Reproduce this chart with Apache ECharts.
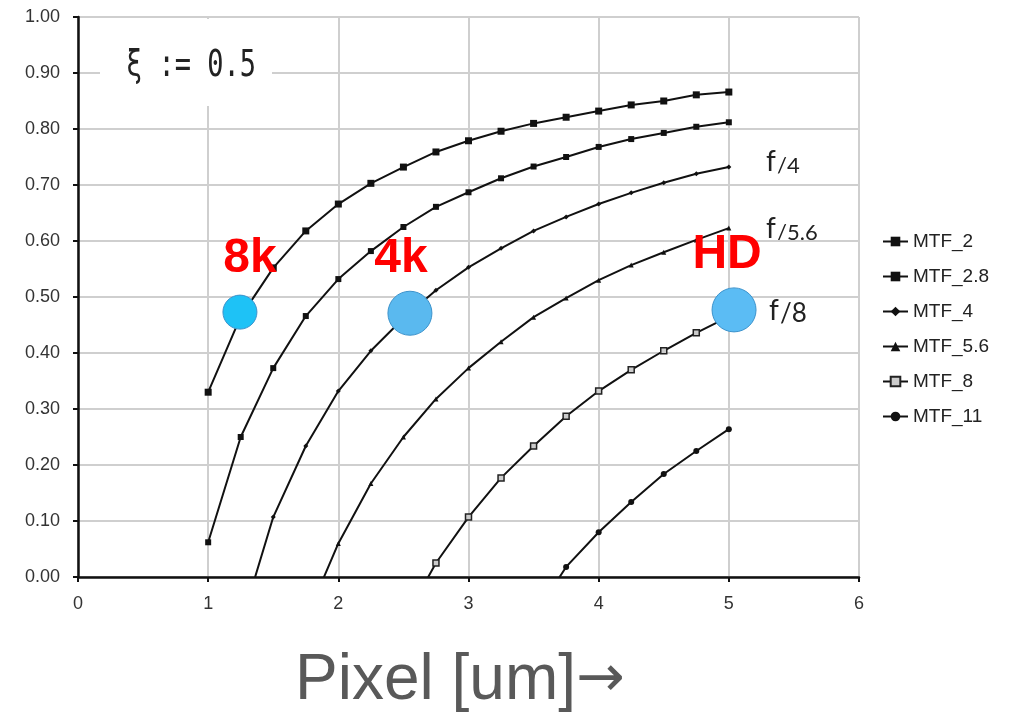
<!DOCTYPE html>
<html>
<head>
<meta charset="utf-8">
<script src="https://cdn.jsdelivr.net/npm/echarts@6/dist/echarts.min.js"></script>
<style>
html,body{margin:0;padding:0;background:#fff;}
#chart{width:1010px;height:714px;}
</style>
</head>
<body>
<div id="chart"></div>
<script>
// pixel pitch (um) for every point of the curves
var pixelSize=[1,1.25,1.5,1.75,2,2.25,2.5,2.75,3,3.25,3.5,3.75,4,4.25,4.5,4.75,5];

// MTF at xi=0.5, one list per aperture (null = no point, below 0 = clipped by axis)
var mtf2 =[0.33,0.465,0.552,0.618,0.666,0.703,0.732,0.759,0.779,0.796,0.81,0.821,0.832,0.843,0.85,0.861,0.866];
var mtf28=[0.062,0.25,0.373,0.466,0.532,0.582,0.625,0.661,0.687,0.712,0.733,0.75,0.768,0.782,0.793,0.804,0.812];
var mtf4 =[null,-0.085,0.107,0.234,0.332,0.404,0.462,0.512,0.553,0.587,0.618,0.643,0.666,0.686,0.704,0.72,0.732];
var mtf56=[null,null,null,-0.076,0.06,0.167,0.25,0.318,0.373,0.42,0.464,0.498,0.53,0.557,0.58,0.602,0.623];
var mtf8 =[null,null,null,null,null,null,-0.08,0.025,0.107,0.177,0.234,0.287,0.332,0.37,0.404,0.436,0.465];
var mtf11=[null,null,null,null,null,null,null,null,null,null,-0.072,0.018,0.08,0.134,0.184,0.225,0.264];

var seriesNames=['MTF_2','MTF_2.8','MTF_4','MTF_5.6','MTF_8','MTF_11'];

// resolution markers
var resNames=['8k','4k','HD'];
var resX=[1.244,2.55,5.04];
var resY=[0.473,0.471,0.477];

var yTicks=['0.00','0.10','0.20','0.30','0.40','0.50','0.60','0.70','0.80','0.90','1.00'];

function pairs(ys){
	var out=[];
	for(var i=0;i<pixelSize.length;i++){
		out.push([pixelSize[i],ys[i]]);
	}
	return out;
}

function mtfLine(name,ys,sym,size,extra){
	var s={
		name:name,type:'line',data:pairs(ys),
		symbol:sym,symbolSize:size,showAllSymbol:true,
		clip:true,connectNulls:false,smooth:false,
		lineStyle:{color:'#111',width:2},
		itemStyle:{color:'#111',borderWidth:0},
		emphasis:{disabled:true},z:3
	};
	if(extra){for(var k in extra){s[k]=extra[k];}}
	return s;
}

var series=[
	mtfLine('MTF_2',mtf2,'rect',7),
	mtfLine('MTF_2.8',mtf28,'rect',6),
	mtfLine('MTF_4',mtf4,'diamond',5),
	mtfLine('MTF_5.6',mtf56,'triangle',5),
	mtfLine('MTF_8',mtf8,'rect',6,{itemStyle:{color:'#ccc',borderColor:'#222',borderWidth:1.5}}),
	mtfLine('MTF_11',mtf11,'circle',6)
];

var resSizes=[34,44,44];
var resColors=['#1ec2f6','#5ab9ef','#5bbcf4'];
var resOffsets=[[10,-53],[-9,-54],[-7,-55]];
var resData=[];
for(var i=0;i<resNames.length;i++){
	resData.push({
		value:[resX[i],resY[i]],name:resNames[i],symbolSize:resSizes[i],
		itemStyle:{color:resColors[i],borderColor:'#3d93cc',borderWidth:1,opacity:1},
		label:{show:true,position:'inside',offset:resOffsets[i],formatter:'{b}'}
	});
}
series.push({
	name:'res',type:'scatter',data:resData,z:5,clip:false,
	itemStyle:{opacity:1},
	label:{color:'#ff0000',fontSize:48,fontWeight:'bold',fontFamily:'Liberation Sans'},
	emphasis:{disabled:true}
});

function fText(x,y,num,sub){
	return {type:'group',x:x,y:y,children:[
		{type:'text',style:{text:'f',font:'28px Lato',fill:'#222'}},
		{type:'text',x:11,y:sub?7:4,style:{text:'/'+num,font:(sub?'22px':'26px')+' Lato',fill:'#222'}}
	]};
}

var chart=echarts.init(document.getElementById('chart'));
chart.setOption({
	backgroundColor:'#fff',
	animation:false,
	title:{
		text:'Pixel [um]{a|\u2192}',left:290,top:644,
		textStyle:{fontFamily:'Liberation Sans',fontSize:64,fontWeight:'normal',color:'#595959',
			rich:{a:{fontFamily:'DejaVu Sans',fontSize:58,color:'#595959'}}}
	},
	legend:{
		data:seriesNames,orient:'vertical',left:877,top:227,
		itemWidth:25,itemHeight:12,itemGap:16,
		textStyle:{fontFamily:'Liberation Sans',fontSize:19,color:'#222'},
		selectedMode:false
	},
	grid:{left:78,right:151,top:17,bottom:137},
	xAxis:{
		type:'value',min:0,max:6,interval:1,
		axisLine:{lineStyle:{color:'#111',width:2.5}},
		axisTick:{show:true,length:5,lineStyle:{color:'#111',width:2}},
		axisLabel:{fontFamily:'Liberation Sans',fontSize:18,color:'#333',margin:18},
		splitLine:{show:true,lineStyle:{color:'#cfcfcf',width:2}}
	},
	yAxis:{
		type:'value',min:0,max:1,interval:0.1,
		axisLine:{show:true,lineStyle:{color:'#111',width:2.5}},
		axisTick:{show:true,length:5,lineStyle:{color:'#111',width:2}},
		axisLabel:{fontFamily:'Liberation Sans',fontSize:18,color:'#333',margin:18,
			formatter:function(v){return yTicks[Math.round(v*10)];}},
		splitLine:{show:true,lineStyle:{color:'#cfcfcf',width:2}}
	},
	graphic:[
		{type:'rect',shape:{x:100,y:19,width:172,height:87},style:{fill:'#fff'},z:10},
		{type:'text',x:126,y:48,scaleY:1.35,z:11,
			style:{text:'\u03be := 0.5',font:'27px "DejaVu Sans Mono"',fill:'#222'}},
		fText(766,148,'4',true),
		fText(766,215,'5.6',true),
		fText(769,297,'8',false)
	],
	series:series
});
</script>
</body>
</html>
